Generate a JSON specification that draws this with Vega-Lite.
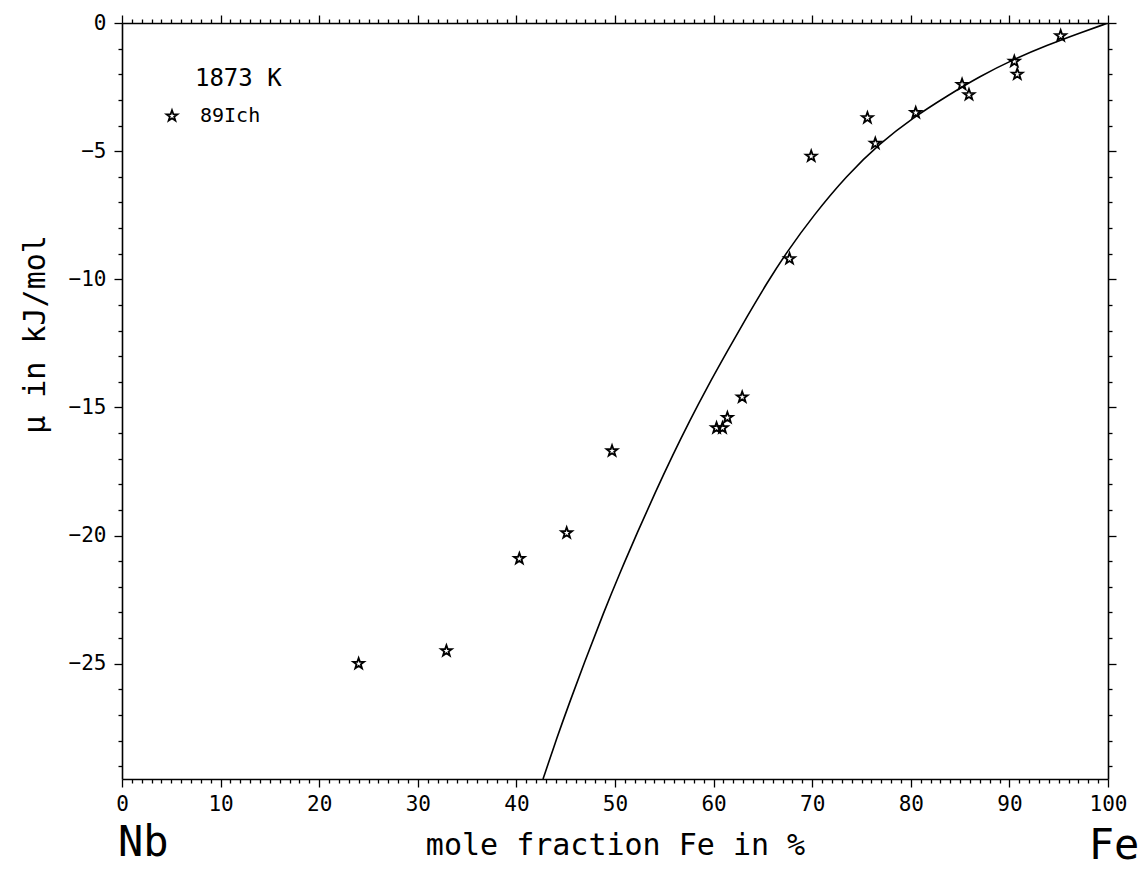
{
  "$schema": "https://vega.github.io/schema/vega-lite/v6.json",
  "width": 986,
  "height": 756,
  "autosize": "none",
  "padding": {"left": 122, "top": 23, "right": 39, "bottom": 92},
  "background": "white",
  "config": {
    "view": {"stroke": null},
    "font": "DejaVu Sans Mono",
    "axis": {
      "grid": false,
      "domainColor": "black",
      "domainWidth": 1.6,
      "tickColor": "black",
      "tickWidth": 1.3,
      "labelColor": "black",
      "labelFont": "DejaVu Sans Mono",
      "labelFontSize": 21,
      "labelFlush": false,
      "labelOverlap": false,
      "titleColor": "black",
      "titleFont": "DejaVu Sans Mono",
      "titleFontWeight": "normal",
      "titleFontSize": 30
    },
    "text": {"font": "DejaVu Sans Mono", "color": "black"}
  },
  "datasets": {
    "curve": [
      {"fe": 42.7, "mu": -29.5},
      {"fe": 44.1, "mu": -27.9},
      {"fe": 45.4, "mu": -26.5},
      {"fe": 47.1, "mu": -24.75},
      {"fe": 48.8, "mu": -23.05},
      {"fe": 50.5, "mu": -21.45},
      {"fe": 52.3, "mu": -19.85},
      {"fe": 54.1, "mu": -18.3},
      {"fe": 55.8, "mu": -16.9},
      {"fe": 57.6, "mu": -15.5},
      {"fe": 59.3, "mu": -14.25},
      {"fe": 61.4, "mu": -12.8},
      {"fe": 63.4, "mu": -11.45},
      {"fe": 65.4, "mu": -10.15},
      {"fe": 67.4, "mu": -8.95},
      {"fe": 70.1, "mu": -7.52},
      {"fe": 73.5, "mu": -5.95},
      {"fe": 76.9, "mu": -4.68},
      {"fe": 80.2, "mu": -3.7},
      {"fe": 83.7, "mu": -2.84},
      {"fe": 87.0, "mu": -2.08},
      {"fe": 90.4, "mu": -1.42},
      {"fe": 93.8, "mu": -0.87},
      {"fe": 97.2, "mu": -0.38},
      {"fe": 100.0, "mu": 0.0}
    ],
    "ichise": [
      {"fe": 24.0, "mu": -25.0},
      {"fe": 32.9, "mu": -24.5},
      {"fe": 40.3, "mu": -20.9},
      {"fe": 45.1, "mu": -19.9},
      {"fe": 49.7, "mu": -16.7},
      {"fe": 60.3, "mu": -15.8},
      {"fe": 60.9, "mu": -15.8},
      {"fe": 61.4, "mu": -15.4},
      {"fe": 62.9, "mu": -14.6},
      {"fe": 67.7, "mu": -9.2},
      {"fe": 69.9, "mu": -5.2},
      {"fe": 75.6, "mu": -3.7},
      {"fe": 76.4, "mu": -4.7},
      {"fe": 80.5, "mu": -3.5},
      {"fe": 85.2, "mu": -2.4},
      {"fe": 85.9, "mu": -2.8},
      {"fe": 90.5, "mu": -1.5},
      {"fe": 90.8, "mu": -2.0},
      {"fe": 95.2, "mu": -0.5}
    ],
    "note": [{"text": "1873 K"}],
    "elements": [{"element": "Nb"}, {"element": "Fe"}]
  },
  "layer": [
    {
      "data": {"name": "curve"},
      "mark": {"type": "line", "color": "black", "strokeWidth": 1.6, "interpolate": "basis", "clip": true},
      "encoding": {
        "x": {
          "field": "fe", "type": "quantitative",
          "scale": {"domain": [0, 100], "nice": false, "zero": false},
          "axis": {
            "orient": "bottom",
            "title": "mole fraction Fe in %",
            "titlePadding": 16,
            "values": [0,1,2,3,4,5,6,7,8,9,10,11,12,13,14,15,16,17,18,19,20,21,22,23,24,25,26,27,28,29,30,31,32,33,34,35,36,37,38,39,40,41,42,43,44,45,46,47,48,49,50,51,52,53,54,55,56,57,58,59,60,61,62,63,64,65,66,67,68,69,70,71,72,73,74,75,76,77,78,79,80,81,82,83,84,85,86,87,88,89,90,91,92,93,94,95,96,97,98,99,100],
            "labelExpr": "datum.value % 10 === 0 ? datum.label : ''",
            "tickSize": {"condition": {"test": "datum.value % 10 === 0", "value": 8}, "value": 4},
            "labelPadding": 6
          }
        },
        "y": {
          "field": "mu", "type": "quantitative",
          "scale": {"domain": [-29.5, 0], "nice": false, "zero": false},
          "axis": {
            "orient": "left",
            "title": "µ in kJ/mol",
            "titleY": 311,
            "titlePadding": 18,
            "values": [-29,-28,-27,-26,-25,-24,-23,-22,-21,-20,-19,-18,-17,-16,-15,-14,-13,-12,-11,-10,-9,-8,-7,-6,-5,-4,-3,-2,-1,0],
            "labelExpr": "datum.value % 5 === 0 ? datum.label : ''",
            "tickSize": {"condition": {"test": "datum.value % 5 === 0", "value": 8}, "value": 4},
            "labelPadding": 8
          }
        }
      }
    },
    {
      "data": {"name": "ichise"},
      "mark": {"type": "point", "filled": false, "color": "black", "opacity": 1, "strokeWidth": 1.8, "size": 130},
      "encoding": {
        "x": {
          "field": "fe", "type": "quantitative",
          "axis": {
            "orient": "top",
            "title": null,
            "labels": false,
            "values": [0,1,2,3,4,5,6,7,8,9,10,11,12,13,14,15,16,17,18,19,20,21,22,23,24,25,26,27,28,29,30,31,32,33,34,35,36,37,38,39,40,41,42,43,44,45,46,47,48,49,50,51,52,53,54,55,56,57,58,59,60,61,62,63,64,65,66,67,68,69,70,71,72,73,74,75,76,77,78,79,80,81,82,83,84,85,86,87,88,89,90,91,92,93,94,95,96,97,98,99,100],
            "tickSize": {"condition": {"test": "datum.value % 10 === 0", "value": 8}, "value": 4}
          }
        },
        "y": {
          "field": "mu", "type": "quantitative",
          "axis": {
            "orient": "right",
            "title": null,
            "labels": false,
            "values": [-29,-28,-27,-26,-25,-24,-23,-22,-21,-20,-19,-18,-17,-16,-15,-14,-13,-12,-11,-10,-9,-8,-7,-6,-5,-4,-3,-2,-1,0],
            "tickSize": {"condition": {"test": "datum.value % 5 === 0", "value": 8}, "value": 4}
          }
        },
        "shape": {
          "datum": "89Ich",
          "scale": {"range": ["M0,-1L0.235,-0.324L0.951,-0.309L0.38,0.124L0.588,0.809L0,0.4L-0.588,0.809L-0.38,0.124L-0.951,-0.309L-0.235,-0.324Z"]},
          "legend": {
            "title": null,
            "orient": "none",
            "legendX": 40,
            "legendY": 83,
            "padding": 0,
            "labelFont": "DejaVu Sans Mono",
            "labelFontSize": 20,
            "labelColor": "black",
            "labelOffset": 18,
            "symbolSize": 130,
            "symbolStrokeWidth": 1.8,
            "symbolStrokeColor": "black",
            "symbolFillColor": "transparent",
            "symbolOpacity": 1
          }
        }
      }
    },
    {
      "data": {"name": "note"},
      "mark": {"type": "text", "align": "left", "baseline": "middle", "fontSize": 24},
      "encoding": {
        "x": {"datum": 7.4, "axis": null},
        "y": {"datum": -2.2, "axis": null},
        "text": {"field": "text"}
      }
    },
    {
      "data": {"name": "elements"},
      "transform": [{"filter": "datum.element === 'Nb'"}],
      "mark": {"type": "text", "align": "left", "baseline": "middle", "fontSize": 42, "dx": -4},
      "encoding": {
        "x": {"datum": 0, "axis": null},
        "y": {"datum": -32.0, "axis": null},
        "text": {"field": "element"}
      }
    },
    {
      "data": {"name": "elements"},
      "transform": [{"filter": "datum.element === 'Fe'"}],
      "mark": {"type": "text", "align": "center", "baseline": "middle", "fontSize": 42, "dx": 6},
      "encoding": {
        "x": {"datum": 100, "axis": null},
        "y": {"datum": -32.1, "axis": null},
        "text": {"field": "element"}
      }
    }
  ],
  "resolve": {"axis": {"x": "independent", "y": "independent"}}
}
